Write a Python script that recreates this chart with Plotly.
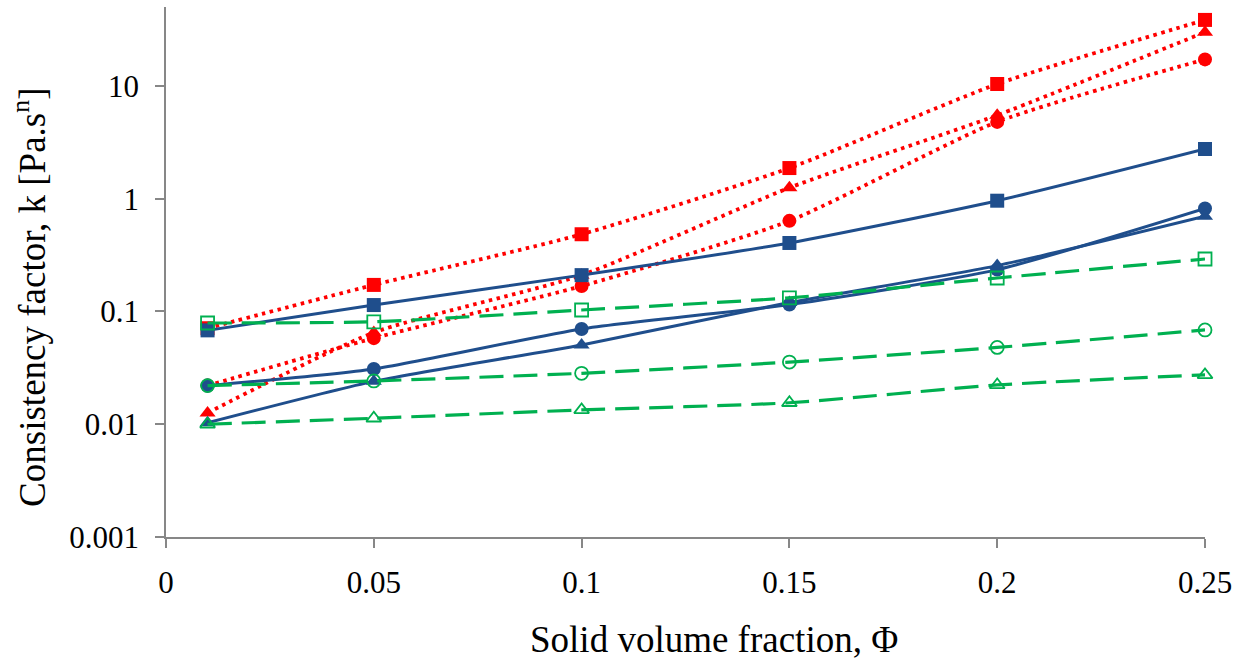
import plotly.graph_objects as go

phi = [0.01, 0.05, 0.10, 0.15, 0.20, 0.25]

red_square = [0.071, 0.172, 0.484, 1.87, 10.4, 38.5]
red_triangle = [0.0126, 0.065, 0.21, 1.25, 5.5, 30.0]
red_circle = [0.022, 0.058, 0.168, 0.636, 4.8, 17.2]

blue_square = [0.068, 0.114, 0.21, 0.405, 0.96, 2.76]
blue_circle = [0.022, 0.0309, 0.070, 0.115, 0.235, 0.82]
blue_triangle = [0.0103, 0.024, 0.0505, 0.12, 0.255, 0.70]

green_square = [0.079, 0.081, 0.103, 0.132, 0.198, 0.292]
green_circle = [0.022, 0.0242, 0.0283, 0.0356, 0.048, 0.0686]
green_triangle = [0.0100, 0.0113, 0.0134, 0.0155, 0.0223, 0.0274]

x_ticks = [0, 0.05, 0.1, 0.15, 0.2, 0.25]
x_ticktext = ["0", "0.05", "0.1", "0.15", "0.2", "0.25"]
y_ticks = [0.001, 0.01, 0.1, 1, 10]
y_ticktext = ["0.001", "0.01", "0.1", "1", "10"]

x_title = "Solid volume fraction, Φ"
y_title = "Consistency factor, k [Pa.s<sup>n</sup>]"

RED = "#FF0000"
BLUE = "#1F4E8C"
GREEN = "#00B050"

fig = go.Figure()

def add(y, color, symbol, dash, width, msize, open_=False):
    if open_:
        marker = dict(symbol=symbol + "-open", size=msize, color=color,
                      line=dict(color=color, width=1.8))
    else:
        marker = dict(symbol=symbol, size=msize, color=color,
                      line=dict(color=color, width=0))
    fig.add_trace(go.Scatter(
        x=phi, y=y, mode="lines+markers",
        line=dict(color=color, width=width, dash=dash, shape="spline", smoothing=0.6),
        marker=marker, showlegend=False, cliponaxis=False,
    ))

for y, s in [(red_square, "square"), (red_triangle, "triangle-up"), (red_circle, "circle")]:
    add(y, RED, s, "3.5px,4.5px", 3.8, 14)
for y, s in [(blue_square, "square"), (blue_circle, "circle"), (blue_triangle, "triangle-up")]:
    add(y, BLUE, s, "solid", 3, 14)
for y, s in [(green_square, "square"), (green_circle, "circle"), (green_triangle, "triangle-up")]:
    add(y, GREEN, s, "24px,10px", 3.2, 13, open_=True)

axis_col = "#878787"
fig.update_layout(
    width=1242, height=663,
    margin=dict(l=166, r=37, t=7, b=126, autoexpand=False),
    paper_bgcolor="white", plot_bgcolor="white",
    font=dict(family="Liberation Serif, Times New Roman, serif", color="black", size=31),
    xaxis=dict(
        range=[0, 0.25], tickvals=x_ticks, ticktext=x_ticktext, automargin=False,
        showgrid=False, zeroline=False, showline=True, linecolor=axis_col, linewidth=1.5,
        ticks="outside", ticklen=9, tickwidth=1.5, tickcolor=axis_col,
        ticklabelstandoff=8,
        tickfont=dict(size=31),
    ),
    yaxis=dict(
        type="log", range=[-3, 1.70], tickvals=y_ticks, ticktext=y_ticktext, automargin=False,
        showgrid=False, zeroline=False, showline=True, linecolor=axis_col, linewidth=1.5,
        ticks="outside", ticklen=9, tickwidth=1.5, tickcolor=axis_col,
        ticklabelstandoff=10,
        tickfont=dict(size=31),
    ),
    annotations=[
        dict(text=x_title, xref="paper", yref="paper", x=0.5274, y=-0.194,
             xanchor="center", yanchor="middle", showarrow=False, font=dict(size=37)),
        dict(text=y_title, xref="paper", yref="paper", x=-0.1309, y=0.453,
             xanchor="center", yanchor="middle", showarrow=False, textangle=-90,
             font=dict(size=37)),
    ],
)

fig.write_html("out.html")
